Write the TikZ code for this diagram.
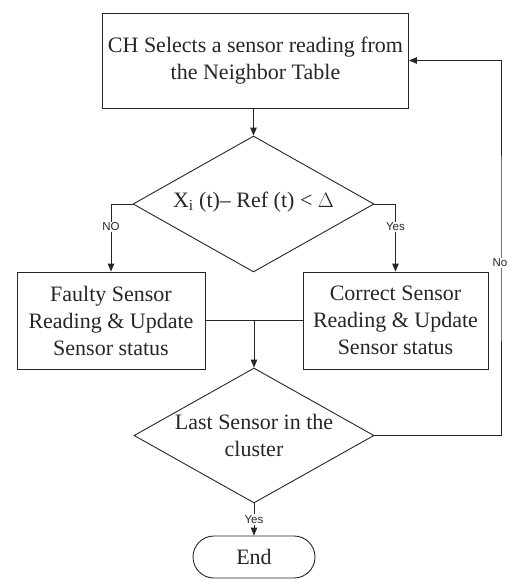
\documentclass[tikz,border=0pt]{standalone}
\usepackage{fontspec}
\setmainfont{Liberation Serif}
\newfontfamily\labelfont{Liberation Sans}
\usetikzlibrary{shapes.geometric,shapes.misc,arrows.meta}
\begin{document}
\begin{tikzpicture}[x=1pt,y=-1pt,
  line width=0.9pt, color=black!85,
  mainfont/.style={font=\fontsize{22}{27}\selectfont},
  box/.style={draw, rectangle, inner sep=0pt, align=center, mainfont},
  decision/.style={draw, diamond, inner sep=0pt},
  dtext/.style={align=center, mainfont, inner sep=0pt},
  terminal/.style={draw, rounded rectangle, inner sep=0pt, align=center, mainfont},
  lbl/.style={font=\labelfont\fontsize{11.5}{13}\selectfont, fill=white, inner sep=1pt},
  arr/.style={-{Triangle[length=8pt,width=6.5pt]}}]
\useasboundingbox (0,0) rectangle (509,581);
\node[box, minimum width=306pt, minimum height=95pt] (top) at (255.5,60.5)
  {CH Selects a sensor reading from\\the Neighbor Table};
\node[decision, minimum width=241pt, minimum height=136pt] (d1) at (253.5,204) {};
\node[dtext] (d1t) at ([yshift=2pt]d1.center) {X\textsubscript{i} (t)-- Ref (t) < $\Delta$};
\node[box, minimum width=188pt, minimum height=97pt] (lb) at (111,320.5)
  {Faulty Sensor\\Reading \& Update\\Sensor status};
\node[box, minimum width=185pt, minimum height=97pt] (rb) at (395.5,320.5)
  {Correct Sensor\\Reading \& Update\\Sensor status};
\node[decision, minimum width=240pt, minimum height=135pt] (d2) at (254,435.5) {};
\node[dtext] (d2t) at (d2.center) {Last Sensor in the\\cluster};
\node[terminal, minimum width=122pt, minimum height=42pt] (end) at (254,557) {End};
\coordinate (loopx) at (501,250);

\draw[arr] (top.south -| d1.north) -- (d1.north);
\draw[arr] (d1.west) -| node[lbl, pos=0.67] {NO} (lb.north);
\draw[arr] (d1.east) -| node[lbl, pos=0.67] {Yes} (rb.north);
\draw (lb.east) -- (rb.west);
\draw[arr] (lb.east -| d2.north) -- (d2.north);
\draw[arr] (d2.east) -| (loopx) |- (top.east);
\node[lbl] (nolbl) at (500,263) {No};
\draw[arr] (d2.south) -- node[lbl] {Yes} (end.north);
\end{tikzpicture}
\end{document}
